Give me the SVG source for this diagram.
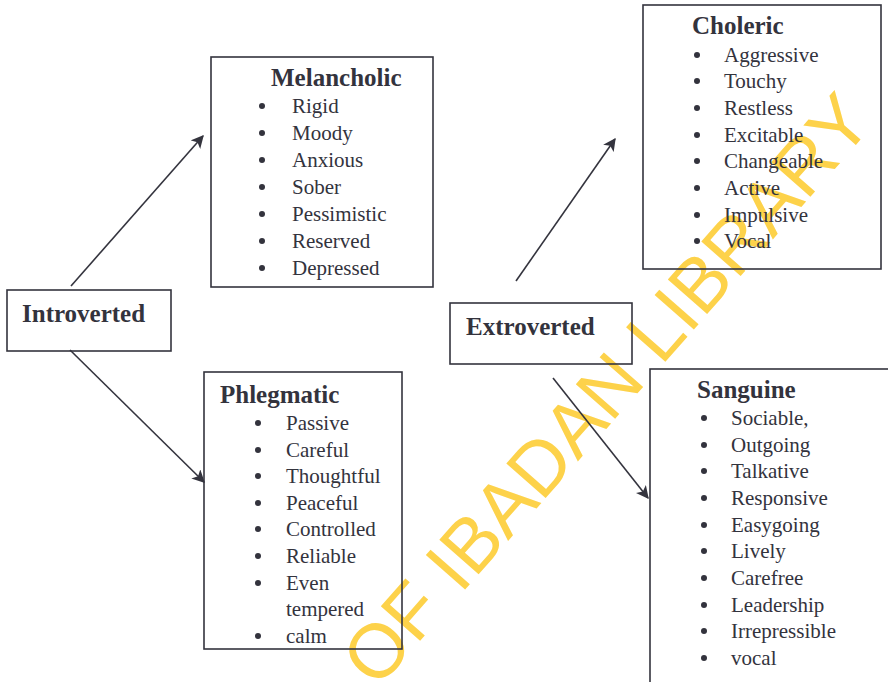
<svg xmlns="http://www.w3.org/2000/svg" width="888" height="682" viewBox="0 0 888 682">
<style>
.box{fill:none;stroke:#34343e;stroke-width:1.6}
.title{font-family:"Liberation Serif",serif;font-weight:bold;font-size:25px;fill:#33333d}
.item{font-family:"Liberation Serif",serif;font-size:21px;fill:#33333d}
.bul{fill:#33333d}
.wm{font-family:"Liberation Sans",sans-serif;font-size:76px;fill:#fdd24a}
.conn line{stroke:#34343e;stroke-width:1.6;marker-end:url(#ah)}
</style>
<defs>
<marker id="ah" viewBox="0 0 10 10" refX="9" refY="5" markerWidth="8" markerHeight="8" markerUnits="strokeWidth" orient="auto">
<path d="M0,0 L10,5 L0,10 L2.5,5 Z" fill="#34343e"/>
</marker>
</defs>
<rect width="888" height="682" fill="#ffffff"/>
<text class="wm" transform="translate(377,690) rotate(-48.7)">OF IBADAN LIBRARY</text>

<g id="introverted">
<rect class="box" x="7" y="290" width="164" height="61"/>
<text class="title" x="22" y="322">Introverted</text>
</g>

<g id="melancholic">
<rect class="box" x="211" y="57" width="222" height="230"/>
<text class="title" x="271" y="86">Melancholic</text>
<g class="bul"><circle cx="262" cy="106" r="3"/><circle cx="262" cy="133" r="3"/><circle cx="262" cy="160" r="3"/><circle cx="262" cy="187" r="3"/><circle cx="262" cy="214" r="3"/><circle cx="262" cy="241" r="3"/><circle cx="262" cy="268" r="3"/></g>
<text class="item" x="292" y="113">Rigid</text>
<text class="item" x="292" y="140">Moody</text>
<text class="item" x="292" y="167">Anxious</text>
<text class="item" x="292" y="194">Sober</text>
<text class="item" x="292" y="221">Pessimistic</text>
<text class="item" x="292" y="248">Reserved</text>
<text class="item" x="292" y="275">Depressed</text>
</g>

<g id="phlegmatic">
<rect class="box" x="204" y="372" width="198" height="277"/>
<text class="title" x="220" y="403">Phlegmatic</text>
<g class="bul"><circle cx="258" cy="423" r="3"/><circle cx="258" cy="450" r="3"/><circle cx="258" cy="476" r="3"/><circle cx="258" cy="503" r="3"/><circle cx="258" cy="529" r="3"/><circle cx="258" cy="556" r="3"/><circle cx="258" cy="583" r="3"/><circle cx="258" cy="636" r="3"/></g>
<text class="item" x="286" y="430">Passive</text>
<text class="item" x="286" y="457">Careful</text>
<text class="item" x="286" y="483">Thoughtful</text>
<text class="item" x="286" y="510">Peaceful</text>
<text class="item" x="286" y="536">Controlled</text>
<text class="item" x="286" y="563">Reliable</text>
<text class="item" x="286" y="590">Even</text>
<text class="item" x="286" y="616">tempered</text>
<text class="item" x="286" y="643">calm</text>
</g>

<g id="extroverted">
<rect class="box" x="450" y="303" width="182" height="61"/>
<text class="title" x="466" y="335">Extroverted</text>
</g>

<g id="choleric">
<rect class="box" x="643" y="5" width="238" height="264"/>
<text class="title" x="692" y="34">Choleric</text>
<g class="bul"><circle cx="697" cy="55" r="3"/><circle cx="697" cy="81" r="3"/><circle cx="697" cy="108" r="3"/><circle cx="697" cy="135" r="3"/><circle cx="697" cy="161" r="3"/><circle cx="697" cy="188" r="3"/><circle cx="697" cy="215" r="3"/><circle cx="697" cy="241" r="3"/></g>
<text class="item" x="724" y="62">Aggressive</text>
<text class="item" x="724" y="88">Touchy</text>
<text class="item" x="724" y="115">Restless</text>
<text class="item" x="724" y="142">Excitable</text>
<text class="item" x="724" y="168">Changeable</text>
<text class="item" x="724" y="195">Active</text>
<text class="item" x="724" y="222">Impulsive</text>
<text class="item" x="724" y="248">Vocal</text>
</g>

<g id="sanguine">
<rect class="box" x="650" y="369" width="260" height="330"/>
<text class="title" x="697" y="398">Sanguine</text>
<g class="bul"><circle cx="704" cy="418" r="3"/><circle cx="704" cy="445" r="3"/><circle cx="704" cy="471" r="3"/><circle cx="704" cy="498" r="3"/><circle cx="704" cy="525" r="3"/><circle cx="704" cy="551" r="3"/><circle cx="704" cy="578" r="3"/><circle cx="704" cy="605" r="3"/><circle cx="704" cy="631" r="3"/><circle cx="704" cy="658" r="3"/></g>
<text class="item" x="731" y="425">Sociable,</text>
<text class="item" x="731" y="452">Outgoing</text>
<text class="item" x="731" y="478">Talkative</text>
<text class="item" x="731" y="505">Responsive</text>
<text class="item" x="731" y="532">Easygoing</text>
<text class="item" x="731" y="558">Lively</text>
<text class="item" x="731" y="585">Carefree</text>
<text class="item" x="731" y="612">Leadership</text>
<text class="item" x="731" y="638">Irrepressible</text>
<text class="item" x="731" y="665">vocal</text>
</g>

<g id="connectors" class="conn">
<line x1="71" y1="286" x2="203" y2="136"/>
<line x1="70" y1="350" x2="204" y2="482"/>
<line x1="516" y1="281" x2="615" y2="139"/>
<line x1="553" y1="378" x2="648" y2="498"/>
</g>
</svg>
